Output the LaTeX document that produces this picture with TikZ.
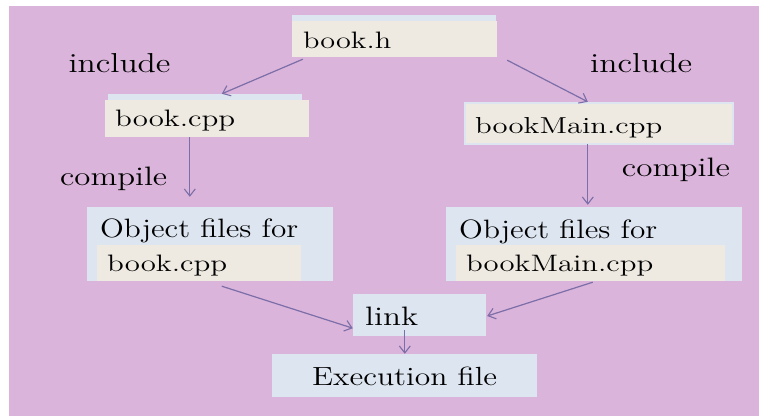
\documentclass[tikz,border=0pt]{standalone}
\usepackage{graphicx}
\usetikzlibrary{arrows.meta,calc}
\definecolor{bgpurple}{RGB}{218,180,218}
\definecolor{lblue}{RGB}{221,229,240}
\definecolor{beige}{RGB}{238,234,225}
\definecolor{arrowc}{RGB}{124,110,168}
\newcommand\fitt[3]{\resizebox{#1pt}{#2pt}{#3}}
\tikzset{
  boxnode/.style={rectangle,inner sep=0pt,draw=none},
  bluebox/.style={boxnode,fill=lblue},
  beigebox/.style={boxnode,fill=beige},
  lbl/.style={anchor=base west,inner sep=0pt,font=\Large},
  arr/.style={draw=arrowc,line width=1.2pt,-{Straight Barb[length=7pt,width=11pt,line width=1.1pt]}}
}
\begin{document}
\begin{tikzpicture}[x=1pt,y=-1pt]
\useasboundingbox (0,0) rectangle (759,416);
\fill[white] (0,0) rectangle (759,416);
\fill[bgpurple] (9,6) rectangle (759,416);
% top boxes
\fill[lblue] (292,15) rectangle (496,22);
\node[beigebox,minimum width=205pt,minimum height=36pt] (bookh) at (394.5,39) {};
\fill[lblue] (108,94) rectangle (302,100);
\node[beigebox,minimum width=204pt,minimum height=37pt] (bookcpp) at (207,118.5) {};
\fill[lblue] (464,102) rectangle (734,145);
\node[beigebox,minimum width=266pt,minimum height=39pt] (bookmain) at (599,123.5) {};
% object boxes
\node[bluebox,minimum width=246pt,minimum height=74pt] (objL) at (210,244) {};
\node[beigebox,minimum width=204pt,minimum height=36pt] (objLin) at (199,263) {};
\node[bluebox,minimum width=296pt,minimum height=74pt] (objR) at (594,244) {};
\node[beigebox,minimum width=269pt,minimum height=36pt] (objRin) at (590.5,263) {};
% link and exec
\node[bluebox,minimum width=133pt,minimum height=42pt] (link) at (419.5,315) {};
\node[bluebox,minimum width=265pt,minimum height=43pt] (exec) at (404.5,375.5) {};
% labels
\node[lbl] (tbookh) at (303,48.3) {\fitt{88}{16.5}{book.h}};
\node[lbl] (tbookcpp) at (115,126.7) {\fitt{120}{16.5}{book.cpp}};
\node[lbl] (tbookmain) at (475,133.3) {\fitt{187}{16}{bookMain.cpp}};
\node[lbl] (incL) at (68.3,72.3) {\fitt{102}{19}{include}};
\node[lbl] (incR) at (590,72) {\fitt{102}{19}{include}};
\node[lbl] (compL) at (60,185) {\fitt{107}{18.5}{compile}};
\node[lbl] (compR) at (621.7,176.7) {\fitt{108}{18.5}{compile}};
\node[lbl] (objLt) at (100,237.7) {\fitt{198}{18.7}{Object files for}};
\node[lbl] (objRt) at (459,238) {\fitt{198}{18.7}{Object files for}};
\node[lbl] (objLf) at (107,271) {\fitt{120}{16.5}{book.cpp}};
\node[lbl] (objRf) at (466,271.7) {\fitt{187}{16.5}{bookMain.cpp}};
\node[lbl] (tlink) at (365,325) {\fitt{53}{18.5}{link}};
\node[lbl] (texec) at (312,385) {\fitt{185}{18.5}{Execution file}};
% connectors
\draw[arr] ($(bookh.south west)+(11,2)$) -- ($(bookcpp.north west)+(117,-6)$);
\draw[arr] ($(bookh.south east)+(10,3)$) -- ($(bookmain.north west)+(122,-2)$);
\draw[arr] ($(bookcpp.south west)+(85,0)$) -- ($(objL.north west)+(103,-10)$);
\draw[arr] ($(bookmain.south west)+(122,1)$) -- ($(objR.north west)+(142,-2)$);
\draw[arr] ($(objL.south west)+(135,5)$) -- ($(link.south west)+(0,-8)$);
\draw[arr] ($(objR.south west)+(147,1)$) -- ($(link.east)+(1,1)$);
\draw[arr] ($(link.south west)+(52,-6)$) -- ($(exec.north west)+(133,0)$);
\end{tikzpicture}
\end{document}
